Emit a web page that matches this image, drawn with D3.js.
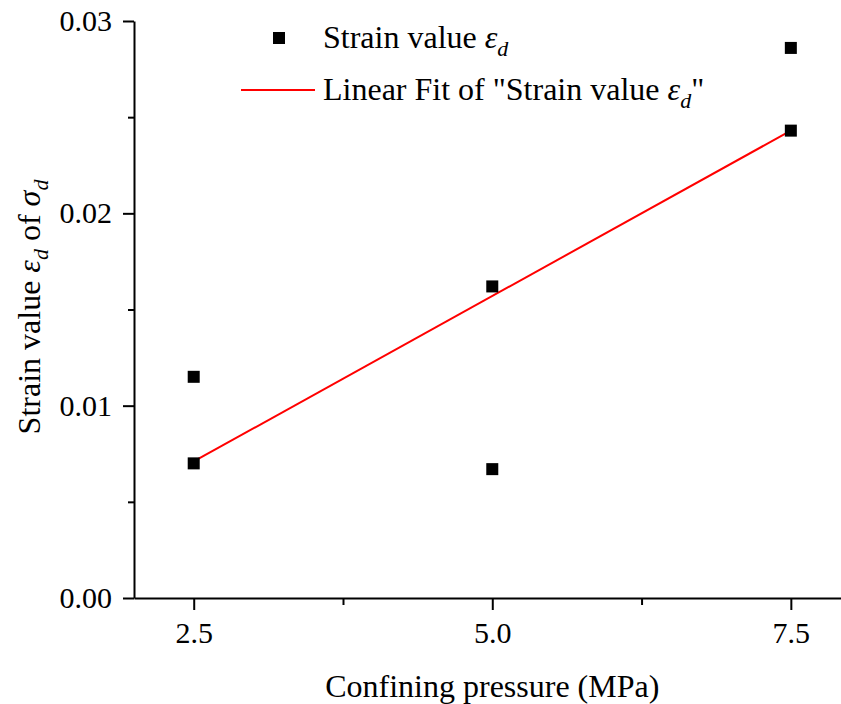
<!DOCTYPE html>
<html>
<head>
<meta charset="utf-8">
<script src="https://cdn.jsdelivr.net/npm/d3@7/dist/d3.min.js"></script>
<style>
  html, body { margin: 0; padding: 0; background: #fff; }
  svg { display: block; }
  text { font-family: "Liberation Serif", "Times New Roman", serif; fill: #000; }
</style>
</head>
<body>
<svg id="chart" width="841" height="704"></svg>
<script>
// Data
const pressure = [2.5, 2.5, 5.0, 5.0, 7.5, 7.5];
const strain   = [0.0115, 0.0070, 0.0162, 0.0067, 0.0286, 0.0243];
const fitPressure = [2.5, 7.5];
const fitStrain   = [0.0071, 0.0243];
const xTicks = [2.5, 5.0, 7.5];
const xMinorTicks = [3.75, 6.25];
const yTicks = [0.00, 0.01, 0.02, 0.03];
const yMinorTicks = [0.005, 0.015, 0.025];

const svg = d3.select("#chart");
const plotLeft = 134, plotRight = 841, plotTop = 21, plotBottom = 598;

const x = d3.scaleLinear().domain([2.0, 7.92]).range([plotLeft, plotRight]);
const y = d3.scaleLinear().domain([0, 0.03]).range([plotBottom, plotTop]);

// X axis
const xAxis = svg.append("g").attr("transform", `translate(0,${plotBottom})`)
  .call(d3.axisBottom(x).tickValues(xTicks).tickFormat(d3.format(".1f"))
        .tickSize(12).tickPadding(12).tickSizeOuter(0));
xAxis.call(g => g.select(".domain").attr("stroke-width", 2));
xAxis.selectAll(".tick line").attr("stroke-width", 2);
xAxis.selectAll("text").style("font-size", "30px");
svg.append("g").attr("transform", `translate(0,${plotBottom})`)
  .call(d3.axisBottom(x).tickValues(xMinorTicks).tickFormat("").tickSize(7).tickSizeOuter(0))
  .call(g => g.select(".domain").remove())
  .selectAll(".tick line").attr("stroke-width", 2);

// Y axis
const yAxis = svg.append("g").attr("transform", `translate(${plotLeft},0)`)
  .call(d3.axisLeft(y).tickValues(yTicks).tickFormat(d3.format(".2f"))
        .tickSize(11).tickPadding(11).tickSizeOuter(0));
yAxis.call(g => g.select(".domain").attr("stroke-width", 2));
yAxis.selectAll(".tick line").attr("stroke-width", 2);
yAxis.selectAll("text").style("font-size", "30px");
svg.append("g").attr("transform", `translate(${plotLeft},0)`)
  .call(d3.axisLeft(y).tickValues(yMinorTicks).tickFormat("").tickSize(6).tickSizeOuter(0))
  .call(g => g.select(".domain").remove())
  .selectAll(".tick line").attr("stroke-width", 2);

// Fit line
svg.append("path")
  .datum(fitPressure.map((p, i) => [p, fitStrain[i]]))
  .attr("fill", "none").attr("stroke", "#ff0000").attr("stroke-width", 2)
  .attr("d", d3.line().x(d => x(d[0])).y(d => y(d[1])));

// Points
const ms = 12;
svg.append("g").selectAll("rect")
  .data(pressure.map((p, i) => [p, strain[i]]))
  .join("rect")
  .attr("x", d => x(d[0]) - ms / 2)
  .attr("y", d => y(d[1]) - ms / 2)
  .attr("width", ms).attr("height", ms)
  .attr("fill", "#000");

// Axis titles
svg.append("text")
  .attr("x", (x(2.5) + x(7.5)) / 2).attr("y", 697)
  .attr("text-anchor", "middle").style("font-size", "32px")
  .text("Confining pressure (MPa)");

const yt = svg.append("text")
  .attr("transform", "translate(40,307) rotate(-90)")
  .attr("text-anchor", "middle").style("font-size", "32px");
yt.append("tspan").text("Strain value ");
yt.append("tspan").style("font-style", "italic").text("ε");
yt.append("tspan").style("font-style", "italic").style("font-size", "22px").attr("dy", "8").text("d");
yt.append("tspan").attr("dy", "-8").text(" of ");
yt.append("tspan").style("font-style", "italic").text("σ");
yt.append("tspan").style("font-style", "italic").style("font-size", "22px").attr("dy", "8").text("d");

// Legend
const leg = svg.append("g");
leg.append("rect").attr("x", 279 - ms / 2).attr("y", 38 - ms / 2)
  .attr("width", ms).attr("height", ms).attr("fill", "#000");
const l1 = leg.append("text").attr("x", 323).attr("y", 48).style("font-size", "32px");
l1.append("tspan").text("Strain value ");
l1.append("tspan").style("font-style", "italic").text("ε");
l1.append("tspan").style("font-style", "italic").style("font-size", "22px").attr("dy", "8").text("d");

leg.append("line").attr("x1", 241).attr("x2", 315).attr("y1", 90).attr("y2", 90)
  .attr("stroke", "#ff0000").attr("stroke-width", 2);
const l2 = leg.append("text").attr("x", 323).attr("y", 100).style("font-size", "32px");
l2.append("tspan").text("Linear Fit of \"Strain value ");
l2.append("tspan").style("font-style", "italic").text("ε");
l2.append("tspan").style("font-style", "italic").style("font-size", "22px").attr("dy", "8").text("d");
l2.append("tspan").attr("dy", "-8").text("\"");
</script>
</body>
</html>
